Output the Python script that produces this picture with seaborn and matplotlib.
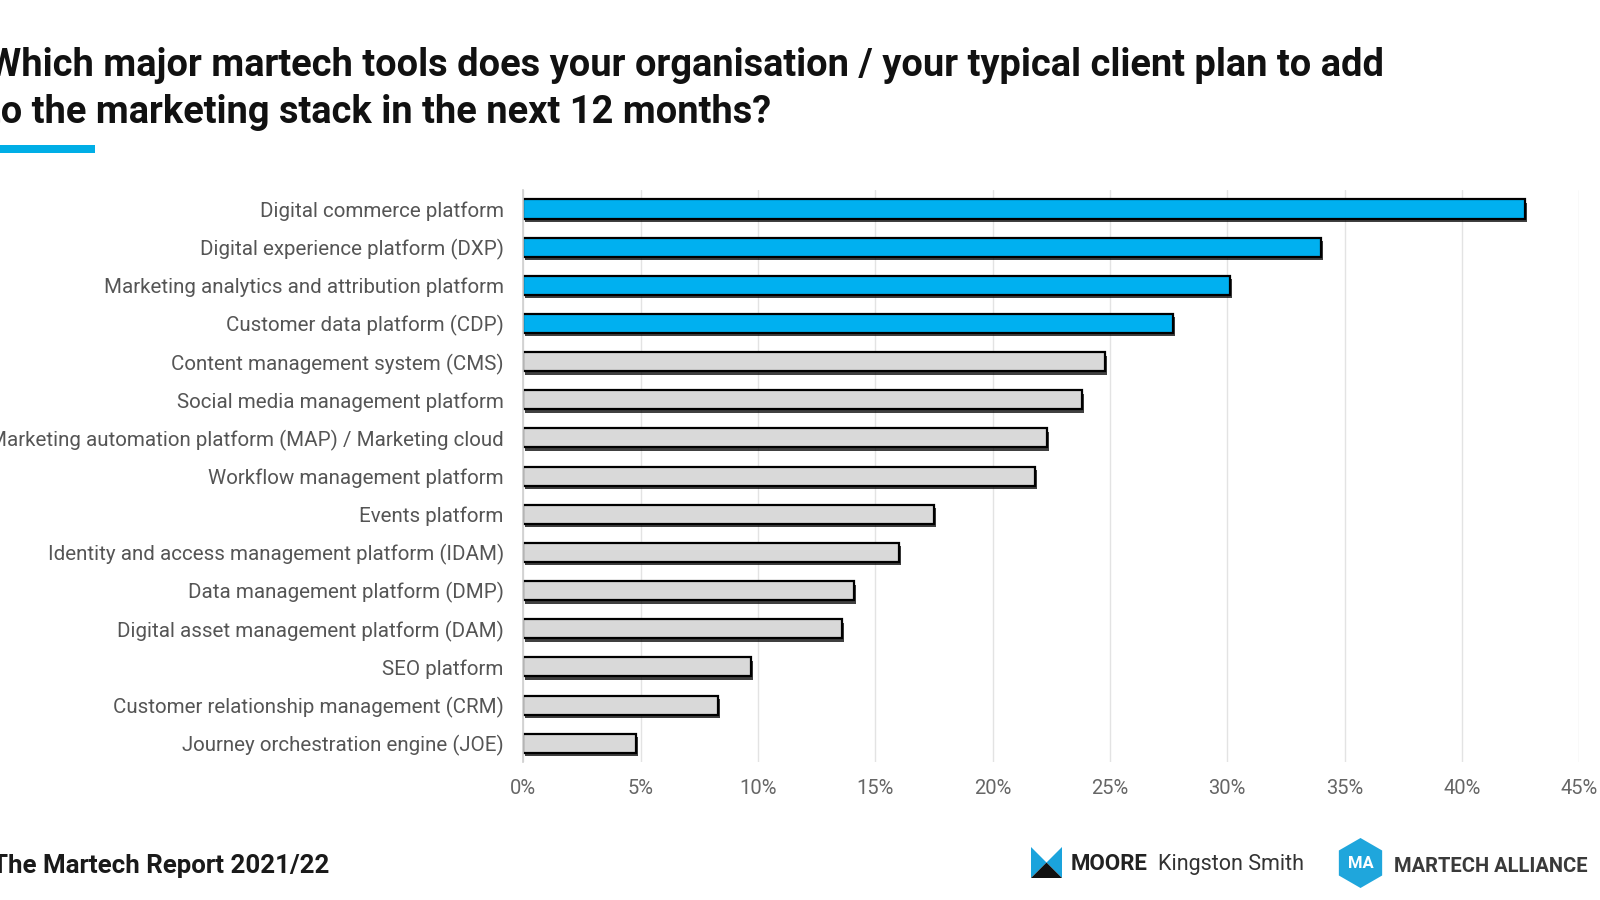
import pandas as pd
import matplotlib.pyplot as plt
import matplotlib.patheffects as pe
from matplotlib.patches import Rectangle, Polygon, RegularPolygon
import seaborn as sns

# Data (share of respondents, %)
tools = [
    "Digital commerce platform",
    "Digital experience platform (DXP)",
    "Marketing analytics and attribution platform",
    "Customer data platform (CDP)",
    "Content management system (CMS)",
    "Social media management platform",
    "Marketing automation platform (MAP) / Marketing cloud",
    "Workflow management platform",
    "Events platform",
    "Identity and access management platform (IDAM)",
    "Data management platform (DMP)",
    "Digital asset management platform (DAM)",
    "SEO platform",
    "Customer relationship management (CRM)",
    "Journey orchestration engine (JOE)",
]
share = [42.7, 34.0, 30.1, 27.7, 24.8, 23.8, 22.3, 21.8, 17.5, 16.0, 14.1, 13.6, 9.7, 8.3, 4.8]
group = ["top"] * 4 + ["other"] * 11
xticks = [0, 5, 10, 15, 20, 25, 30, 35, 40, 45]

df = pd.DataFrame({"tool": tools, "share": share, "group": group})

sns.set_theme(style="white")
plt.rcParams['font.family'] = ['Roboto', 'DejaVu Sans']

fig = plt.figure(figsize=(16, 9), dpi=100)
fig.patch.set_facecolor("white")
ax = fig.add_axes([0.327, 0.153, 0.66, 0.636])

sns.barplot(data=df, x="share", y="tool", hue="group",
            palette={"top": "#00b0f0", "other": "#d9d9d9"}, saturation=1,
            dodge=False, legend=False, width=0.5,
            edgecolor="black", linewidth=1.6, ax=ax)

# drop shadow under each bar
for bar in ax.patches:
    bar.set_path_effects([pe.SimplePatchShadow(offset=(1.5, -2.5), shadow_rgbFace="black", alpha=0.75),
                          pe.Normal()])

ax.set_xlim(0, 45)
ax.set_xticks(xticks)
ax.set_xticklabels([f"{t}%" for t in xticks])
ax.set_xlabel("")
ax.set_ylabel("")
ax.grid(axis="x", color="#e3e3e3", lw=1)
ax.set_axisbelow(True)

for s in ["top", "right", "bottom"]:
    ax.spines[s].set_visible(False)
ax.spines["left"].set_color("#d0d0d0")

ax.set_yticks([i + 0.5 for i in range(-1, len(tools))], minor=True)
ax.tick_params(axis="y", which="major", length=0, pad=14, labelsize=14.8, labelcolor="#555555")
ax.tick_params(axis="y", which="minor", length=5, color="#cfcfcf", width=1)
ax.tick_params(axis="x", length=0, pad=12, labelsize=14.5, labelcolor="#666666")

# title
fig.text(-0.0075, 0.9156, "Which major martech tools does your organisation / your typical client plan to add",
         fontsize=27.4, fontweight="bold", color="#111111", va="baseline")
fig.text(-0.0075, 0.8633, "to the marketing stack in the next 12 months?",
         fontsize=27.4, fontweight="bold", color="#111111", va="baseline")
fig.patches.append(Rectangle((0, 7.47), 0.95, 0.08, transform=fig.dpi_scale_trans,
                             facecolor="#00aee6", edgecolor="none", figure=fig))

# footer
fig.text(-0.005, 1 - 873 / 900, "The Martech Report 2021/22", fontsize=18.6,
         fontweight="semibold", color="#1a1a1a", va="baseline")

# Moore Kingston Smith logo
x0, y0, s = 10.31, (900 - 878) / 100, 0.31
for pts, col in [([(0, 1), (0, 0), (0.5, 0.5)], "#1aa3dc"),
                 ([(1, 1), (1, 0), (0.5, 0.5)], "#1aa3dc"),
                 ([(0, 0), (1, 0), (0.5, 0.5)], "#111111")]:
    fig.patches.append(Polygon([(x0 + px * s, y0 + py * s) for px, py in pts], closed=True,
                               transform=fig.dpi_scale_trans, facecolor=col,
                               edgecolor="none", figure=fig))
fig.text(1071 / 1600, 1 - 870 / 900, "MOORE", fontsize=16, fontweight="semibold",
         color="#222222", va="baseline")
fig.text(1158 / 1600, 1 - 870 / 900, "Kingston Smith", fontsize=15.5,
         color="#333333", va="baseline")

# Martech Alliance logo
fig.patches.append(RegularPolygon((13.605, (900 - 863) / 100), numVertices=6, radius=0.25,
                                  orientation=0, transform=fig.dpi_scale_trans,
                                  facecolor="#1fa6dc", edgecolor="none", figure=fig))
fig.text(1360.5 / 1600, 1 - 863 / 900, "MA", fontsize=12, fontweight="bold",
         color="white", ha="center", va="center")
fig.text(1394 / 1600, 1 - 872 / 900, "MARTECH ALLIANCE", fontsize=14.5,
         fontweight="bold", color="#3a3a3a", va="baseline")

fig.savefig("out.png", dpi=100, facecolor="white")
